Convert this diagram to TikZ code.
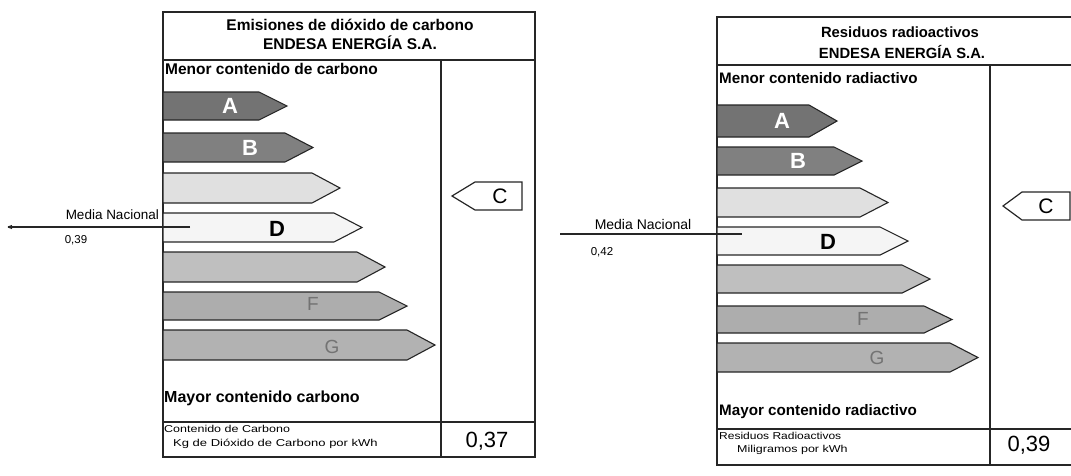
\documentclass[tikz,border=0pt]{standalone}
\usepackage{fontspec}
\setmainfont{Liberation Sans}
\newcommand\ebar[5]{% x0, y0, y1, tip x, fill
  \draw[barline, fill=#5] (#1,#2) -- (#4-28,#2) -- (#4,{(#2+#3)/2}) -- (#4-28,#3) -- (#1,#3) -- cycle;}
\begin{document}
\begin{tikzpicture}[x=1pt,y=-1pt,
  frame/.style={draw=black!85, line width=1.3pt},
  barline/.style={draw=black!85, line width=1.1pt},
  titletxt/.style={font=\bfseries\fontsize{15.5}{17}\selectfont, inner sep=0pt},
  headtxt/.style={font=\bfseries\fontsize{15.5}{17}\selectfont, inner sep=0pt, anchor=west},
  smalltxt/.style={font=\fontsize{10}{12}\selectfont, inner sep=0pt, anchor=west},
  valtxt/.style={font=\fontsize{22}{24}\selectfont, inner sep=0pt},
  mediatxt/.style={font=\fontsize{13.5}{15}\selectfont, inner sep=0pt},
  barletter/.style={font=\bfseries\fontsize{22}{24}\selectfont, inner sep=0pt},
  faintletter/.style={font=\fontsize{19}{21}\selectfont, inner sep=0pt, text=black!55},
  marker/.style={draw=black!85, line width=1.2pt, fill=white},
  markertxt/.style={font=\fontsize{21}{23}\selectfont, inner sep=0pt},
  mline/.style={draw=black!85, line width=1.1pt}]
\useasboundingbox (0,0) rectangle (1071,475);
\fill[white] (0,0) rectangle (1071,475);

% ================= LEFT PANEL =================
\draw[frame] (163,12) rectangle (535,457);
\draw[frame] (163,60) -- (535,60);
\draw[frame] (441,60) -- (441,457);
\draw[frame] (163,422) -- (535,422);
\node[titletxt] (t1a) at (350,25) {Emisiones de dióxido de carbono};
\node[titletxt] (t1b) at (350,43) {ENDESA ENERGÍA S.A.};
\node[headtxt] (menor1) at (165,69) {Menor contenido de carbono};
\node[headtxt] (mayor1) at (164,398) {\fontsize{16}{18}\selectfont Mayor contenido carbono};
\node[smalltxt] (cc1) at (164,429) {\scalebox{1.25}[1]{Contenido de Carbono}};
\node[smalltxt] (kg1) at (173,444) {\scalebox{1.3}[1]{Kg de Dióxido de Carbono por kWh}};
\node[valtxt] (v1) at (487,441) {0,37};

\ebar{163}{92}{120}{287}{black!55}
\ebar{163}{133}{162}{313}{black!50}
\ebar{163}{173}{203}{340}{black!12}
\ebar{163}{213}{242}{362}{black!4}
\ebar{163}{252}{282}{385}{black!25}
\ebar{163}{292}{320}{407}{black!32}
\ebar{163}{330}{360}{435}{black!30}
\node[barletter, text=white] (a1) at (230,106) {A};
\node[barletter, text=white] (b1) at (250,148) {B};
\node[barletter] (d1) at (277,229) {D};
\node[faintletter] (f1) at (313,304) {F};
\node[faintletter] (g1) at (332,347) {G};

\draw[marker] (452,196) -- (475,182) -- (522,182) -- (522,210) -- (475,210) -- cycle;
\node[markertxt] (c1) at (500,196) {C};

\coordinate (mn1L) at (8,227);
\coordinate (mn1R) at (190,227);
\draw[mline] (mn1R) -- (mn1L);
\draw[mline] (mn1L) -- ++(4,-1.5) (mn1L) -- ++(4,1.5);
\node[mediatxt, anchor=east] (mn1) at (159,215) {Media Nacional};
\node[mediatxt, font=\fontsize{11.5}{13}\selectfont] (mv1) at (76,240) {0,39};

% ================= RIGHT PANEL =================
\draw[frame] (717,17) rectangle (1085,465);
\draw[frame] (717,65) -- (1085,65);
\draw[frame] (990,65) -- (990,465);
\draw[frame] (717,429) -- (1085,429);
\node[titletxt, font=\bfseries\fontsize{14.8}{17}\selectfont] (t2a) at (900,32) {Residuos radioactivos};
\node[titletxt, font=\bfseries\fontsize{14.8}{17}\selectfont] (t2b) at (902,52) {ENDESA ENERGÍA S.A.};
\node[headtxt, font=\bfseries\fontsize{15.2}{17}\selectfont] (menor2) at (719,78) {Menor contenido radiactivo};
\node[headtxt, font=\bfseries\fontsize{15.2}{17}\selectfont] (mayor2) at (719,412) {Mayor contenido radiactivo};
\node[smalltxt] (rr2) at (719,436) {\scalebox{1.2}[1]{Residuos Radioactivos}};
\node[smalltxt] (mg2) at (737,450) {\scalebox{1.25}[1]{Miligramos por kWh}};
\node[valtxt] (v2) at (1029,445) {0,39};

\ebar{717}{105}{137}{837}{black!55}
\ebar{717}{147}{175}{862}{black!50}
\ebar{717}{188}{217}{888}{black!12}
\ebar{717}{227}{255}{908}{black!4}
\ebar{717}{265}{293}{930}{black!25}
\ebar{717}{306}{333}{952}{black!32}
\ebar{717}{343}{372}{978}{black!30}
\node[barletter, text=white] (a2) at (782,121) {A};
\node[barletter, text=white] (b2) at (798,161) {B};
\node[barletter] (d2) at (828,242) {D};
\node[faintletter] (f2) at (863,319) {F};
\node[faintletter] (g2) at (877,358) {G};

\draw[marker] (1003,206) -- (1022,192) -- (1070,192) -- (1070,220) -- (1022,220) -- cycle;
\node[markertxt] (c2) at (1046,206) {C};

\coordinate (mn2L) at (560,234);
\coordinate (mn2R) at (742,234);
\draw[mline] (mn2L) -- (mn2R);
\node[mediatxt, font=\fontsize{14}{16}\selectfont] (mn2) at (643,224) {Media Nacional};
\node[mediatxt, font=\fontsize{11.5}{13}\selectfont] (mv2) at (602,252) {0,42};
\end{tikzpicture}
\end{document}
